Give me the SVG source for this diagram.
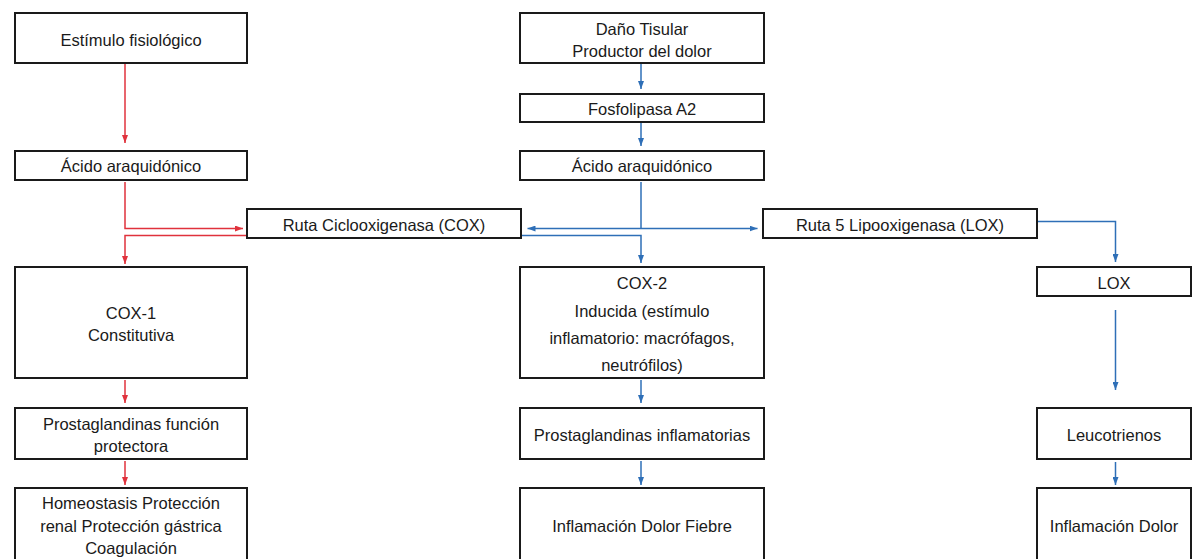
<svg xmlns="http://www.w3.org/2000/svg" width="1192" height="559" viewBox="0 0 1192 559">
<style>
  .box { fill: #ffffff; stroke: #1a1a1a; stroke-width: 2; }
  .t { font-family: "Liberation Sans", Arial, sans-serif; font-size: 16.5px; fill: #1a1a1a; text-anchor: middle; }
  .red { fill: none; stroke: #E0323C; stroke-width: 1.5; }
  .blue { fill: none; stroke: #2E6FB7; stroke-width: 1.5; }
</style>
<defs>
  <marker id="ar" viewBox="0 0 8 6" refX="8" refY="3" markerWidth="8" markerHeight="6" orient="auto" markerUnits="userSpaceOnUse">
    <path d="M0,0 L8,3 L0,6z" fill="#E0323C"/>
  </marker>
  <marker id="ab" viewBox="0 0 8 6" refX="8" refY="3" markerWidth="8" markerHeight="6" orient="auto" markerUnits="userSpaceOnUse">
    <path d="M0,0 L8,3 L0,6z" fill="#2E6FB7"/>
  </marker>
</defs>
<rect width="1192" height="559" fill="#ffffff"/>

<g id="connectors">
  <!-- red (left) -->
  <path class="red" d="M125,64 V143" marker-end="url(#ar)"/>
  <path class="red" d="M125,182 V228.5 H243" marker-end="url(#ar)"/>
  <path class="red" d="M247,235.5 H125 V264" marker-end="url(#ar)"/>
  <path class="red" d="M125,380 V403" marker-end="url(#ar)"/>
  <path class="red" d="M125,461 V485" marker-end="url(#ar)"/>
  <!-- blue (center) -->
  <path class="blue" d="M641,64 V89" marker-end="url(#ab)"/>
  <path class="blue" d="M641,123 V146" marker-end="url(#ab)"/>
  <path class="blue" d="M641,182 V228.5"/>
  <path class="blue" d="M641,228.5 H527.5" marker-end="url(#ab)"/>
  <path class="blue" d="M641,228.5 H757.5" marker-end="url(#ab)"/>
  <path class="blue" d="M521,235.5 H641 V263" marker-end="url(#ab)"/>
  <path class="blue" d="M641,380 V403" marker-end="url(#ab)"/>
  <path class="blue" d="M641,461 V485" marker-end="url(#ab)"/>
  <!-- blue (right) -->
  <path class="blue" d="M1037,221.5 H1115.5 V262" marker-end="url(#ab)"/>
  <path class="blue" d="M1115.5,310 V390" marker-end="url(#ab)"/>
  <path class="blue" d="M1115.5,462 V485" marker-end="url(#ab)"/>
</g>

<g id="n-estimulo">
  <rect class="box" x="15" y="13" width="232" height="50"/>
  <text class="t" x="131" y="46">Estímulo fisiológico</text>
</g>
<g id="n-acido-izq">
  <rect class="box" x="15" y="151" width="232" height="29"/>
  <text class="t" x="131" y="172">Ácido araquidónico</text>
</g>
<g id="n-dano">
  <rect class="box" x="520" y="13" width="244" height="50"/>
  <text class="t" x="642" y="35">Daño Tisular</text>
  <text class="t" x="642" y="57">Productor del dolor</text>
</g>
<g id="n-fosfolipasa">
  <rect class="box" x="520" y="94" width="244" height="28"/>
  <text class="t" x="642" y="115">Fosfolipasa A2</text>
</g>
<g id="n-acido-centro">
  <rect class="box" x="520" y="151" width="244" height="29"/>
  <text class="t" x="642" y="172">Ácido araquidónico</text>
</g>
<g id="n-ruta-cox">
  <rect class="box" x="247" y="209" width="274" height="29"/>
  <text class="t" x="384" y="231">Ruta Ciclooxigenasa (COX)</text>
</g>
<g id="n-ruta-lox">
  <rect class="box" x="763" y="209" width="274" height="29"/>
  <text class="t" x="900" y="231">Ruta 5 Lipooxigenasa (LOX)</text>
</g>
<g id="n-cox1">
  <rect class="box" x="15" y="267" width="232" height="111"/>
  <text class="t" x="131" y="319">COX-1</text>
  <text class="t" x="131" y="341">Constitutiva</text>
</g>
<g id="n-cox2">
  <rect class="box" x="520" y="267" width="244" height="111"/>
  <text class="t" x="642" y="289">COX-2</text>
  <text class="t" x="642" y="317">Inducida (estímulo</text>
  <text class="t" x="642" y="344">inflamatorio: macrófagos,</text>
  <text class="t" x="642" y="371">neutrófilos)</text>
</g>
<g id="n-lox">
  <rect class="box" x="1037" y="267" width="154" height="29"/>
  <text class="t" x="1114" y="289">LOX</text>
</g>
<g id="n-pg-protectora">
  <rect class="box" x="15" y="408" width="232" height="51"/>
  <text class="t" x="131" y="430">Prostaglandinas función</text>
  <text class="t" x="131" y="452">protectora</text>
</g>
<g id="n-pg-inflamatorias">
  <rect class="box" x="520" y="408" width="244" height="51"/>
  <text class="t" x="642" y="441">Prostaglandinas inflamatorias</text>
</g>
<g id="n-leucotrienos">
  <rect class="box" x="1037" y="408" width="154" height="51"/>
  <text class="t" x="1114" y="441">Leucotrienos</text>
</g>
<g id="n-homeostasis">
  <rect class="box" x="15" y="488" width="232" height="80"/>
  <text class="t" x="131" y="509">Homeostasis Protección</text>
  <text class="t" x="131" y="532">renal Protección gástrica</text>
  <text class="t" x="131" y="554">Coagulación</text>
</g>
<g id="n-inflamacion-dolor-fiebre">
  <rect class="box" x="520" y="488" width="244" height="80"/>
  <text class="t" x="642" y="532">Inflamación Dolor Fiebre</text>
</g>
<g id="n-inflamacion-dolor">
  <rect class="box" x="1037" y="488" width="154" height="80"/>
  <text class="t" x="1114" y="532">Inflamación Dolor</text>
</g>
</svg>
